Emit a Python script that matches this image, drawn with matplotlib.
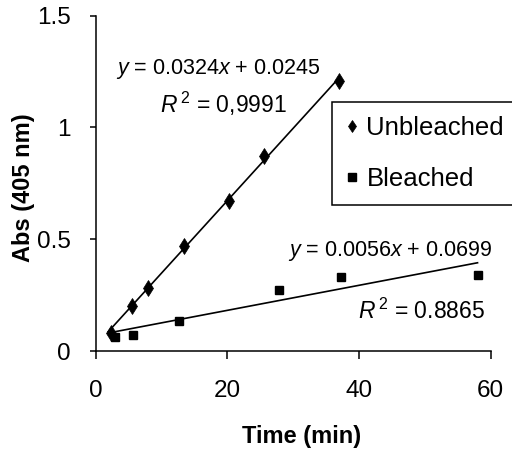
import matplotlib
matplotlib.use("Agg")
import matplotlib.pyplot as plt
import numpy as np

plt.rcParams['font.family'] = ['Liberation Sans', 'DejaVu Sans']
plt.rcParams['mathtext.fontset'] = 'custom'
plt.rcParams['mathtext.rm'] = 'Liberation Sans'
plt.rcParams['mathtext.it'] = 'Liberation Sans:italic'

# Data
unb_x = [2.3, 5.5, 8.0, 13.4, 20.3, 25.6, 37.0]
unb_y = [0.082, 0.20, 0.282, 0.47, 0.672, 0.872, 1.208]
ble_x = [2.9, 5.6, 12.6, 27.8, 37.3, 58.0]
ble_y = [0.062, 0.072, 0.135, 0.275, 0.332, 0.342]
unb_fit = (0.0324, 0.0245)
ble_fit = (0.0056, 0.0699)
unb_range = [1.9, 37.0]
ble_range = [2.0, 58.0]
x_ticks = [0, 20, 40, 60]
y_ticks = [0, 0.5, 1, 1.5]
y_ticklabels = ["0", "0.5", "1", "1.5"]

W, H = 512, 450
fig = plt.figure(figsize=(W / 100, H / 100), dpi=100)
ax = fig.add_axes([95.7 / W, 1 - 351 / H, (490.7 - 95.7) / W, (351 - 15.7) / H])

ax.plot(unb_x, unb_y, linestyle='none', marker='d', color='black',
        markersize=8, markeredgewidth=0.5, label='Unbleached', clip_on=False)
ax.plot(ble_x, ble_y, linestyle='none', marker='s', color='black',
        markersize=6.3, label='Bleached', clip_on=False)

xr = np.array(unb_range)
ax.plot(xr, unb_fit[0] * xr + unb_fit[1], color='black', lw=1.2)
xr = np.array(ble_range)
ax.plot(xr, ble_fit[0] * xr + ble_fit[1], color='black', lw=1.2)

ax.set_xlim(0, 60)
ax.set_ylim(0, 1.5)
ax.set_xticks(x_ticks)
ax.set_yticks(y_ticks)
ax.set_yticklabels(y_ticklabels)
for s in ['top', 'right']:
    ax.spines[s].set_visible(False)
for s in ['left', 'bottom']:
    ax.spines[s].set_linewidth(1.1)
ax.tick_params(axis='y', direction='out', length=4, width=1.1, pad=14, labelsize=17.5)
ax.tick_params(axis='x', direction='out', length=6, width=1.1, pad=15, labelsize=17.5)

fig.text(24 / W, 1 - 188 / H, 'Abs (405 nm)', rotation=90, ha='center', va='center',
         fontsize=17, fontweight='bold')
fig.text(301.5 / W, 1 - 437 / H, 'Time (min)', ha='center', va='center',
         fontsize=17, fontweight='bold')

fig.text(218 / W, 1 - 69 / H, r'$y$ = 0.0324$x$ + 0.0245', ha='center', va='center', fontsize=15.5)
fig.text(160 / W, 1 - 104 / H, r'$R^{\,2}$ = 0,9991', ha='left', va='center', fontsize=16.5)
fig.text(491.7 / W, 1 - 251 / H, r'$y$ = 0.0056$x$ + 0.0699', ha='right', va='center', fontsize=15.5)
fig.text(485 / W, 1 - 311 / H, r'$R^{\,2}$ = 0.8865', ha='right', va='center', fontsize=16.5)

leg = ax.legend(loc='upper left', bbox_to_anchor=(331.7 / W, 1 - 101.7 / H),
                bbox_transform=fig.transFigure, frameon=True, fancybox=False,
                edgecolor='black', framealpha=1, fontsize=18.5, handlelength=0.5,
                handletextpad=0.3, labelspacing=1.05, borderpad=0.55, borderaxespad=0)
leg.get_frame().set_linewidth(1.1)
for h in leg.legend_handles:
    h.set_markersize(6)

fig.savefig('out.png', dpi=100)
